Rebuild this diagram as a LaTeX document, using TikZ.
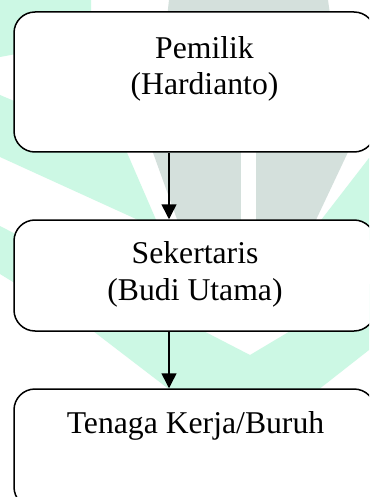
\documentclass[tikz,border=0pt]{standalone}
\usepackage{fontspec}
\setmainfont{Liberation Serif}
\usetikzlibrary{arrows.meta}
\definecolor{wmgreen}{RGB}{204,248,228}
\definecolor{wmgrey}{RGB}{212,224,220}
\begin{document}
\begin{tikzpicture}[x=1pt,y=-1pt,
  box/.style={draw,line width=1.5pt,rounded corners=21pt,fill=white,inner sep=0pt},
  lbl/.style={anchor=base,inner sep=0pt,font=\fontsize{31.7pt}{38pt}\selectfont},
  arr/.style={line width=1.5pt,-{Triangle[width=15pt,length=15pt]}}]
\useasboundingbox (0,0) rectangle (369,497);
\clip (0,0) rectangle (369,497);
\fill[white] (0,0) rectangle (369,497);
% watermark
\fill[wmgreen] (0,0) -- (91,0) -- (91,40) -- (0,57) -- cycle;
\fill[wmgreen] (0,95) -- (125,148) -- (157,222) -- (147,224) -- (0,157) -- cycle;
\fill[wmgreen] (0,226) -- (250,355) -- (369,284) -- (369,350) -- (318,390) -- (290,420) -- (200,420) -- (170,390) -- (93,331) -- (0,274) -- cycle;
\fill[wmgreen] (369,158) -- (369,240) -- (305,240) -- (318,224) -- cycle;
\fill[wmgrey] (169,0) -- (328,0) -- (349,150) -- (315,222) -- (178,222) -- (152,150) -- cycle;
\fill[white] (241,60) rectangle (256,225);
% boxes
\node[box,minimum width=361pt,minimum height=140pt] (b1) at (194.5,82) {};
\node[box,minimum width=361pt,minimum height=111pt] (b2) at (194.5,275.5) {};
\node[box,minimum width=361pt,minimum height=119pt] (b3) at (194.5,448.5) {};
% labels
\node[lbl] (t1a) at (204.5,59) {Pemilik};
\node[lbl] (t1b) at (204.5,95) {(Hardianto)};
\node[lbl] (t2a) at (195,263) {Sekertaris};
\node[lbl] (t2b) at (195,300) {(Budi Utama)};
\node[lbl] (t3) at (195.5,433) {Tenaga Kerja/Buruh};
% connectors
\coordinate (ax) at (169,0);
\draw[arr] (b1.south -| ax) -- (b2.north -| ax);
\draw[arr] (b2.south -| ax) -- (b3.north -| ax);
\end{tikzpicture}
\end{document}
